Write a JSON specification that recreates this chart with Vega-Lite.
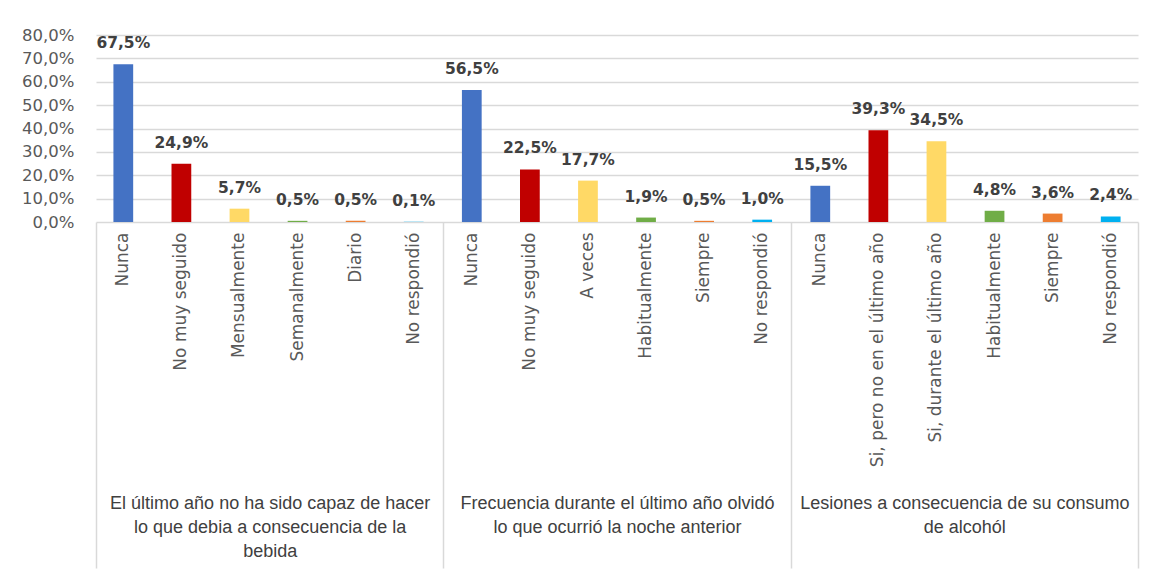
{
  "$schema": "https://vega.github.io/schema/vega-lite/v6.json",
  "autosize": "none",
  "width": 1042,
  "height": 187,
  "padding": {"left": 96, "top": 35, "right": 12, "bottom": 349},
  "background": "white",
  "config": {
    "locale": {"number": {"decimal": ",", "thousands": ".", "grouping": [3], "currency": ["", " €"]}},
    "view": {"stroke": null}
  },
  "datasets": {
    "bars": [
      {"k": "1|Nunca", "pos": 1, "v": 0.675},
      {"k": "1|No muy seguido", "pos": 2, "v": 0.249},
      {"k": "1|Mensualmente", "pos": 3, "v": 0.057},
      {"k": "1|Semanalmente", "pos": 4, "v": 0.005},
      {"k": "1|Diario", "pos": 5, "v": 0.005},
      {"k": "1|No respondió", "pos": 6, "v": 0.001},
      {"k": "2|Nunca", "pos": 1, "v": 0.565},
      {"k": "2|No muy seguido", "pos": 2, "v": 0.225},
      {"k": "2|A veces", "pos": 3, "v": 0.177},
      {"k": "2|Habitualmente", "pos": 4, "v": 0.019},
      {"k": "2|Siempre", "pos": 5, "v": 0.005},
      {"k": "2|No respondió", "pos": 6, "v": 0.010},
      {"k": "3|Nunca", "pos": 1, "v": 0.155},
      {"k": "3|Si, pero no en el último año", "pos": 2, "v": 0.393},
      {"k": "3|Si, durante el último año", "pos": 3, "v": 0.345},
      {"k": "3|Habitualmente", "pos": 4, "v": 0.048},
      {"k": "3|Siempre", "pos": 5, "v": 0.036},
      {"k": "3|No respondió", "pos": 6, "v": 0.024}
    ],
    "groups": [
      {"g": "El último año no ha sido capaz de hacer|lo que debia a consecuencia de la|bebida"},
      {"g": "Frecuencia durante el último año olvidó|lo que ocurrió la noche anterior"},
      {"g": "Lesiones a consecuencia de su consumo|de alcohól"}
    ]
  },
  "layer": [
    {
      "data": {"name": "bars"},
      "encoding": {
        "x": {
          "field": "k", "type": "nominal", "sort": null,
          "scale": {"paddingInner": 0.66, "paddingOuter": 0.3},
          "axis": {
            "orient": "bottom", "title": null, "labelAngle": -90, "labelAlign": "right", "labelBaseline": "middle",
            "labelPadding": 10, "ticks": false, "domain": false, "grid": false,
            "labelExpr": "split(datum.value, '|')[1]",
            "labelFont": "DejaVu Sans", "labelFontSize": 17, "labelColor": "#595959",
            "labelLimit": 320, "labelOverlap": false
          }
        },
        "y": {
          "field": "v", "type": "quantitative",
          "scale": {"domain": [0, 0.8], "nice": false},
          "axis": {
            "title": null, "values": [0, 0.1, 0.2, 0.3, 0.4, 0.5, 0.6, 0.7, 0.8], "format": ".1%",
            "domain": false, "ticks": false, "labelPadding": 22, "labelOverlap": false,
            "labelFont": "DejaVu Sans", "labelFontSize": 16.5, "labelColor": "#595959",
            "gridColor": "#d9d9d9", "gridWidth": 1.5
          }
        }
      },
      "layer": [
        {
          "mark": {"type": "bar"},
          "encoding": {
            "color": {
              "field": "pos", "type": "nominal", "legend": null,
              "scale": {"domain": [1, 2, 3, 4, 5, 6], "range": ["#4472c4", "#c00000", "#ffd966", "#70ad47", "#ed7d31", "#00b0f0"]}
            }
          }
        },
        {
          "mark": {"type": "text", "baseline": "bottom", "dy": -13, "font": "DejaVu Sans", "fontWeight": "bold", "fontSize": 15.5, "color": "#404040"},
          "encoding": {
            "text": {"field": "v", "type": "quantitative", "format": ".1%"}
          }
        }
      ]
    },
    {
      "data": {"name": "groups"},
      "mark": {"type": "tick", "opacity": 0},
      "encoding": {
        "x": {
          "field": "g", "type": "nominal", "sort": null,
          "scale": {"paddingInner": 0, "paddingOuter": 0},
          "axis": {
            "orient": "bottom", "title": null, "labelAngle": 0, "tickBand": "extent", "tickSize": 346,
            "tickColor": "#d9d9d9", "tickWidth": 1.5, "domain": false, "grid": false,
            "labelPadding": -74, "labelBaseline": "top", "labelAlign": "center",
            "labelExpr": "isString(datum.value) ? split(datum.value, '|') : ''", "labelLineHeight": 24,
            "labelFont": "Liberation Sans", "labelFontSize": 18, "labelColor": "#404040",
            "labelLimit": 400, "labelOverlap": false
          }
        }
      }
    }
  ],
  "resolve": {"scale": {"x": "independent"}, "axis": {"x": "independent"}}
}
